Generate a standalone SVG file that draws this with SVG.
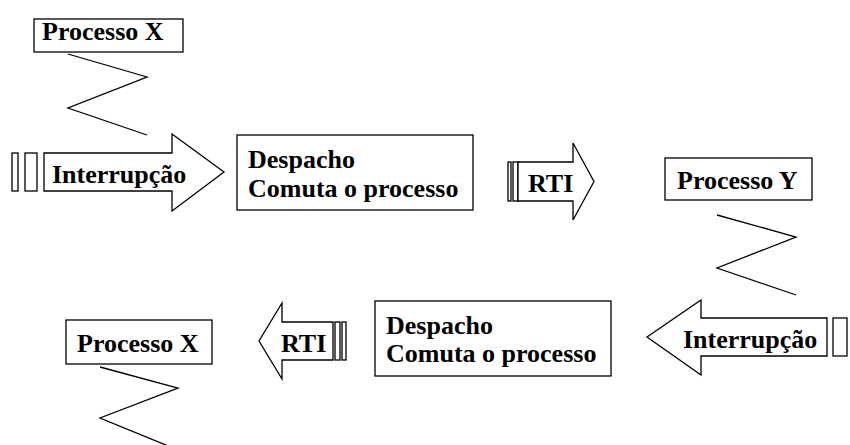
<svg xmlns="http://www.w3.org/2000/svg" width="850" height="445" viewBox="0 0 850 445">
<style>
.s{fill:#fff;stroke:#000;stroke-width:1.3}
.z{fill:none;stroke:#000;stroke-width:1.3}
.t{font-family:"Liberation Serif","Times New Roman",serif;font-weight:bold;font-size:26px;fill:#000}
</style>
<rect width="850" height="445" fill="#fff"/>
<g id="processoX1">
<rect class="s" x="34" y="19" width="149" height="33"/>
<text class="t" x="42" y="40">Processo X</text>
</g>
<g id="interrupcao1">
<rect class="s" x="12" y="153" width="6" height="38"/>
<rect class="s" x="25" y="153" width="12" height="38"/>
<polygon class="s" points="44,153 172,153 172,134 224,172 172,211 172,191 44,191"/>
<text class="t" x="52" y="183">Interrupção</text>
</g>
<g id="despacho1">
<rect class="s" x="237" y="135" width="236" height="75"/>
<text class="t" x="248" y="168">Despacho</text>
<text class="t" x="248" y="197">Comuta o processo</text>
</g>
<g id="rti1">
<rect class="s" x="508" y="162" width="3" height="39"/>
<rect class="s" x="513" y="162" width="5" height="39"/>
<polygon class="s" points="518,162 573,162 573,143 594,181.5 573,220 573,201 518,201"/>
<text class="t" x="528" y="192">RTI</text>
</g>
<g id="processoY">
<rect class="s" x="665" y="158" width="147" height="42"/>
<text class="t" x="677" y="189">Processo Y</text>
</g>
<g id="interrupcao2">
<rect class="s" x="833" y="318" width="14" height="38"/>
<polygon class="s" points="827,318 701,318 701,300 647,337 701,375 701,356 827,356"/>
<text class="t" x="683" y="348">Interrupção</text>
</g>
<g id="despacho2">
<rect class="s" x="375" y="301" width="236" height="75"/>
<text class="t" x="386" y="334">Despacho</text>
<text class="t" x="386" y="362">Comuta o processo</text>
</g>
<g id="rti2">
<rect class="s" x="335" y="322" width="5" height="38"/>
<rect class="s" x="342" y="322" width="4" height="38"/>
<polygon class="s" points="333,322 282,322 282,303 259,341 282,379 282,360 333,360"/>
<text class="t" x="281" y="352">RTI</text>
</g>
<g id="processoX2">
<rect class="s" x="66" y="320" width="146" height="44"/>
<text class="t" x="77" y="352">Processo X</text>
</g>
<g id="connectors">
<polyline class="z" points="68,54 147,77 68,108 147,135"/>
<polyline class="z" points="717,215 796,237 717,268 796,295"/>
<polyline class="z" points="100,367 178,388 100,418 178,450"/>
</g>
</svg>
